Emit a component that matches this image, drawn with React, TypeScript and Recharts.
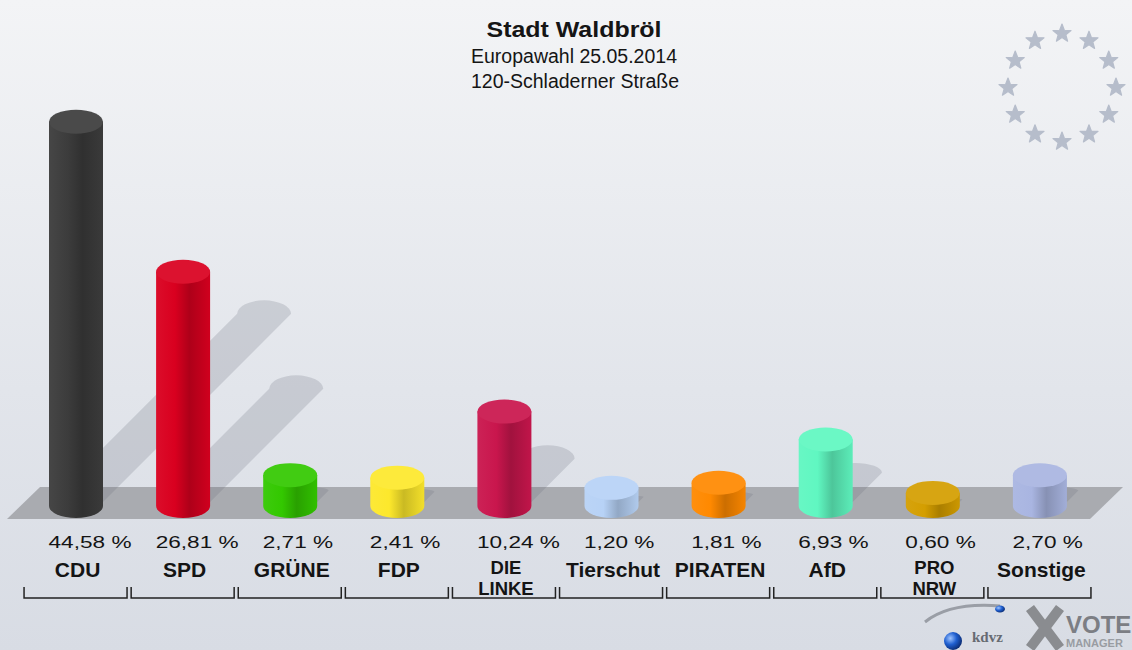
import { Bar, BarChart, XAxis, YAxis } from "recharts";

const parties = [
  "CDU",
  "SPD",
  "GRÜNE",
  "FDP",
  "DIE LINKE",
  "Tierschut",
  "PIRATEN",
  "AfD",
  "PRO NRW",
  "Sonstige",
];
const shares = [44.58, 26.81, 2.71, 2.41, 10.24, 1.2, 1.81, 6.93, 0.6, 2.7];
const colors = [
  "#3c3c3c",
  "#d9001f",
  "#33c800",
  "#fde82c",
  "#c9164d",
  "#b7d2f6",
  "#ff8900",
  "#60f7c1",
  "#d49e00",
  "#a9b5e1",
];
const titleLines = ["Stadt Waldbröl", "Europawahl 25.05.2014", "120-Schladerner Straße"];

const W = 1132;
const H = 650;
const FONT = "'Liberation Sans', Arial, Helvetica, sans-serif";

const data = parties.map((party, i) => ({ party, share: shares[i], color: colors[i] }));

function shade(hex: string, f: number) {
  const n = parseInt(hex.slice(1), 16);
  const t = f < 0 ? 0 : 255;
  const p = Math.abs(f);
  const mix = (v: number) => Math.round(v + (t - v) * p);
  return `rgb(${mix((n >> 16) & 255)},${mix((n >> 8) & 255)},${mix(n & 255)})`;
}

function Cylinder(props: any) {
  const { x, y, width, height, index, payload } = props;
  const rx = width / 2;
  const ry = 12;
  const base = y + height;
  const botY = base + 8;
  const c = payload.color;
  const id = `cyl${index}`;
  const d = height * 0.5;
  const sy = base + 4;
  // shadow cap flattens for short bars
  const capRy = Math.max(1, rx * 0.5 * Math.min(1, d / 40));
  return (
    <g>
      {index === 0 && (
        <polygon
          points={`40,${base - 11} 1123,${base - 11} 1090,${base + 21} 7,${base + 21}`}
          fill="#a9abb0"
        />
      )}
      <path
        d={`M${x},${sy} L${x + width},${sy} L${x + width + d},${sy - d} A${rx} ${capRy} 0 0 0 ${x + d},${sy - d} Z`}
        fill="rgba(105,110,125,0.22)"
      />
      <defs>
        <linearGradient id={id} x1="0" x2="1" y1="0" y2="0">
          <stop offset="0" stopColor={shade(c, 0.05)} />
          <stop offset="0.35" stopColor={c} />
          <stop offset="0.62" stopColor={shade(c, -0.2)} />
          <stop offset="1" stopColor={shade(c, -0.04)} />
        </linearGradient>
      </defs>
      <path
        d={`M${x},${y} L${x},${botY} A${rx} ${ry} 0 0 0 ${x + width},${botY} L${x + width},${y} Z`}
        fill={`url(#${id})`}
      />
      <ellipse cx={x + rx} cy={y} rx={rx} ry={ry} fill={shade(c, 0.07)} />
    </g>
  );
}

function PartyTick(props: any) {
  const { x, y, index } = props;
  const lines = parties[index].split(" ");
  const label = shares[index].toFixed(2).replace(".", ",") + " %";
  const half = 51.5;
  const multi = lines.length > 1;
  return (
    <g fontFamily={FONT} fill="#141414">
      <text transform={`translate(${x - 27},${y + 50}) scale(1.33,1)`} fontSize={17}>
        {label}
      </text>
      {lines.map((l, k) => (
        <text
          key={k}
          x={x + 2}
          y={multi ? y + 76 + k * 21 : y + 79}
          textAnchor="middle"
          fontSize={multi ? 18.5 : 21}
          fontWeight="bold"
        >
          {l}
        </text>
      ))}
      <path
        d={`M${x - half},${y + 89} V${y + 100} H${x + half} V${y + 89}`}
        stroke="#222"
        strokeWidth={1.5}
        fill="none"
      />
    </g>
  );
}

function starPath(cx: number, cy: number, ro: number, ri: number) {
  let s = "";
  for (let k = 0; k < 10; k++) {
    const r = k % 2 === 0 ? ro : ri;
    const a = -Math.PI / 2 + (k * Math.PI) / 5;
    s += `${k === 0 ? "M" : "L"}${cx + r * Math.cos(a)},${cy + r * Math.sin(a)} `;
  }
  return s + "Z";
}

function Backdrop() {
  const stars = Array.from({ length: 12 }, (_, k) => {
    const a = (k * Math.PI) / 6;
    return starPath(1062 + 54 * Math.sin(a), 87.5 - 54 * Math.cos(a), 9.5, 4);
  });
  return (
    <svg width={W} height={H} style={{ position: "absolute", left: 0, top: 0 }}>
      <defs>
        <linearGradient id="bg" x1="0" x2="0" y1="0" y2="1">
          <stop offset="0" stopColor="#f3f4f6" />
          <stop offset="0.6" stopColor="#e2e5eb" />
          <stop offset="1" stopColor="#d8dce4" />
        </linearGradient>
        <radialGradient id="ball" cx="0.35" cy="0.35" r="0.7">
          <stop offset="0" stopColor="#9fc4ff" />
          <stop offset="0.5" stopColor="#1f5fd0" />
          <stop offset="1" stopColor="#0a2a70" />
        </radialGradient>
      </defs>
      <rect width={W} height={H} fill="url(#bg)" />
      <g fontFamily={FONT} fill="#151515" textAnchor="middle">
        <text x={574} y={37} fontSize={22} fontWeight="bold" textLength={175} lengthAdjust="spacingAndGlyphs">
          {titleLines[0]}
        </text>
        <text x={574} y={63} fontSize={19.5}>
          {titleLines[1]}
        </text>
        <text x={575} y={88} fontSize={19.5}>
          {titleLines[2]}
        </text>
      </g>
      {stars.map((p, k) => (
        <path key={k} d={p} fill="#b6bdcb" stroke="#b6bdcb" strokeWidth={1.2} strokeLinejoin="round" />
      ))}
      <g>
        <path d="M925,622 Q950,602 1000,606" stroke="#9a9ea6" strokeWidth={3} fill="none" />
        <ellipse cx={1000} cy={609} rx={5} ry={3.5} fill="url(#ball)" />
        <circle cx={953} cy={641} r={9} fill="url(#ball)" />
        <text x={972} y={642} fontSize={15} fontWeight="bold" fontFamily="'Liberation Serif', serif" fill="#666a72">
          kdvz
        </text>
        <path d="M1030,608 L1060,648 M1060,608 L1030,648" stroke="#8a8c90" strokeWidth={10} />
        <text x={1066} y={633} fontSize={24} fontWeight="bold" fontFamily={FONT} fill="#7c7e84">
          VOTE
        </text>
        <text x={1066} y={647} fontSize={11} fontWeight="bold" fontFamily={FONT} fill="#999ca2">
          MANAGER
        </text>
      </g>
    </svg>
  );
}

export default function App() {
  return (
    <div style={{ position: "absolute", left: 0, top: 0, width: W, height: H }}>
      <Backdrop />
      <div style={{ position: "absolute", left: 0, top: 0 }}>
        <BarChart
          width={W}
          height={H}
          data={data}
          margin={{ top: 76, right: 39, bottom: 122, left: 22 }}
        >
          <XAxis
            dataKey="party"
            interval={0}
            axisLine={false}
            tickLine={false}
            tickSize={0}
            tickMargin={0}
            height={30}
            tick={<PartyTick />}
          />
          <YAxis hide domain={[0, 50]} />
          <Bar dataKey="share" barSize={54} shape={<Cylinder />} isAnimationActive={false} />
        </BarChart>
      </div>
    </div>
  );
}
